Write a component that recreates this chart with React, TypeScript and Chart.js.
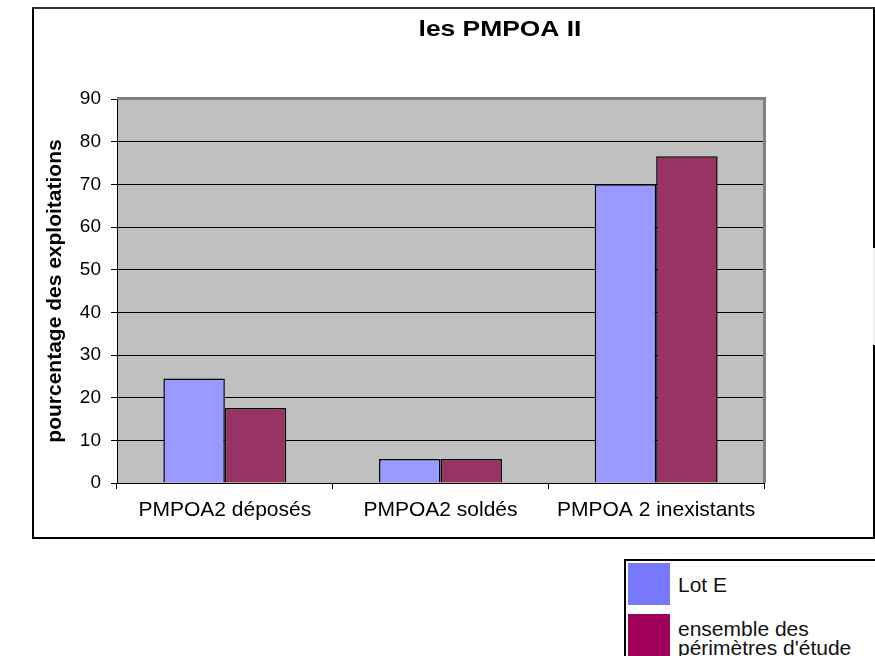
import React, { useEffect, useRef } from "react";
import { Chart, registerables } from "chart.js";

Chart.register(...registerables);

const chartTitle = "les PMPOA II";
const yAxisTitle = "pourcentage des exploitations";
const categories = ["PMPOA2 déposés", "PMPOA2 soldés", "PMPOA 2 inexistants"];
const seriesNames = ["Lot E", "ensemble des périmètres d'étude"];
const lotE = [24.5, 5.6, 70];
const ensemble = [17.6, 5.6, 76.6];
const yMin = 0;
const yMax = 90;
const yStep = 10;
const barColors = ["#9999FF", "#993366"];
const legendColors = ["#7878FA", "#A0005A"];
const legendLines = [["Lot E"], ["ensemble des", "périmètres d'étude"]];

const plotBgPlugin = {
  id: "plotBg",
  beforeDraw(chart: any) {
    const { ctx, chartArea } = chart;
    ctx.save();
    ctx.fillStyle = "#C0C0C0";
    ctx.fillRect(chartArea.left, chartArea.top, chartArea.right - chartArea.left, chartArea.bottom - chartArea.top);
    ctx.restore();
  },
  afterDraw(chart: any) {
    const { ctx, chartArea } = chart;
    ctx.save();
    ctx.strokeStyle = "#808080";
    ctx.lineWidth = 3;
    ctx.beginPath();
    ctx.moveTo(chartArea.left, chartArea.top - 0.5);
    ctx.lineTo(chartArea.right + 0.5, chartArea.top - 0.5);
    ctx.lineTo(chartArea.right + 0.5, chartArea.bottom);
    ctx.stroke();
    // title
    ctx.fillStyle = "#000";
    ctx.font = "bold 22px 'Liberation Sans', Arial, sans-serif";
    ctx.textAlign = "center";
    ctx.textBaseline = "middle";
    ctx.translate(466, 21);
    ctx.scale(1.2, 1);
    ctx.fillText(chartTitle, 0, 0);
    ctx.restore();
  },
};

function App() {
  const canvasRef = useRef<HTMLCanvasElement | null>(null);

  useEffect(() => {
    if (!canvasRef.current) return;
    const chart = new Chart(canvasRef.current, {
      type: "bar",
      data: {
        labels: categories,
        datasets: [
          {
            label: seriesNames[0],
            data: lotE,
            backgroundColor: barColors[0],
            borderColor: "#000",
            borderWidth: 1.5,
            barPercentage: 1,
            categoryPercentage: 0.57,
          },
          {
            label: seriesNames[1],
            data: ensemble,
            backgroundColor: barColors[1],
            borderColor: "#000",
            borderWidth: 1.5,
            barPercentage: 1,
            categoryPercentage: 0.57,
          },
        ],
      },
      options: {
        responsive: false,
        animation: false,
        devicePixelRatio: 1,
        layout: { padding: { top: 90, right: 109, bottom: 0, left: 0 } },
        plugins: {
          legend: { display: false },
          title: { display: false },
          tooltip: { enabled: false },
        },
        scales: {
          x: {
            grid: {
              display: true,
              offset: true,
              drawOnChartArea: false,
              drawTicks: true,
              tickLength: 6,
              color: "#000",
            },
            border: { display: true, color: "#000", width: 1 },
            ticks: {
              color: "#000",
              padding: 9,
              font: { family: "'Liberation Sans', Arial, sans-serif", size: 21 },
              maxRotation: 0,
              autoSkip: false,
            },
            afterFit(scale: any) {
              scale.height = 54;
            },
          },
          y: {
            min: yMin,
            max: yMax,
            ticks: {
              stepSize: yStep,
              color: "#000",
              padding: 10,
              font: { family: "'Liberation Sans', Arial, sans-serif", size: 19 },
            },
            grid: {
              color: "#000",
              lineWidth: 1,
              drawTicks: true,
              tickLength: 6,
            },
            border: { display: true, color: "#000", width: 1 },
            title: {
              display: true,
              text: yAxisTitle,
              color: "#000",
              font: { family: "'Liberation Sans', Arial, sans-serif", size: 21, weight: "bold" },
              padding: { top: 9, bottom: 0 },
            },
            afterFit(scale: any) {
              scale.width = 83;
            },
          },
        },
      },
      plugins: [plotBgPlugin],
    });
    return () => chart.destroy();
  }, []);

  return (
    <div
      style={{
        position: "absolute",
        left: 0,
        top: 0,
        width: 875,
        height: 656,
        overflow: "hidden",
        background: "#fff",
        fontFamily: "'Liberation Sans', Arial, sans-serif",
      }}
    >
      <div
        style={{
          position: "absolute",
          left: 32,
          top: 7,
          width: 843,
          height: 532,
          boxSizing: "border-box",
          border: "2px solid #000",
          borderTopColor: "#333",
        }}
      >
        <canvas ref={canvasRef} width={839} height={528} style={{ display: "block", width: 839, height: 528 }} />
      </div>
      <div
        style={{
          position: "absolute",
          left: 873,
          top: 248,
          width: 2,
          height: 97,
          background: "#f2f2f2",
        }}
      />
      <div
        style={{
          position: "absolute",
          left: 624,
          top: 559,
          width: 260,
          height: 110,
          boxSizing: "border-box",
          border: "2px solid #000",
          background: "#fff",
        }}
      >
        {seriesNames.map((name, i) => (
          <div
            key={name}
            title={name}
            style={{
              position: "absolute",
              left: 2,
              top: i === 0 ? 2 : 54,
              height: 42,
              display: "flex",
              alignItems: "center",
            }}
          >
            <div style={{ width: 42, height: i === 0 ? 42 : 44, background: legendColors[i] }} />
            <div
              style={{
                marginLeft: 8,
                fontSize: 21,
                lineHeight: "19px",
                color: "#111",
                whiteSpace: "nowrap",
                marginTop: i === 0 ? 0 : 4,
              }}
            >
              {legendLines[i].map((ln) => (
                <div key={ln}>{ln}</div>
              ))}
            </div>
          </div>
        ))}
      </div>
    </div>
  );
}

export default App;
